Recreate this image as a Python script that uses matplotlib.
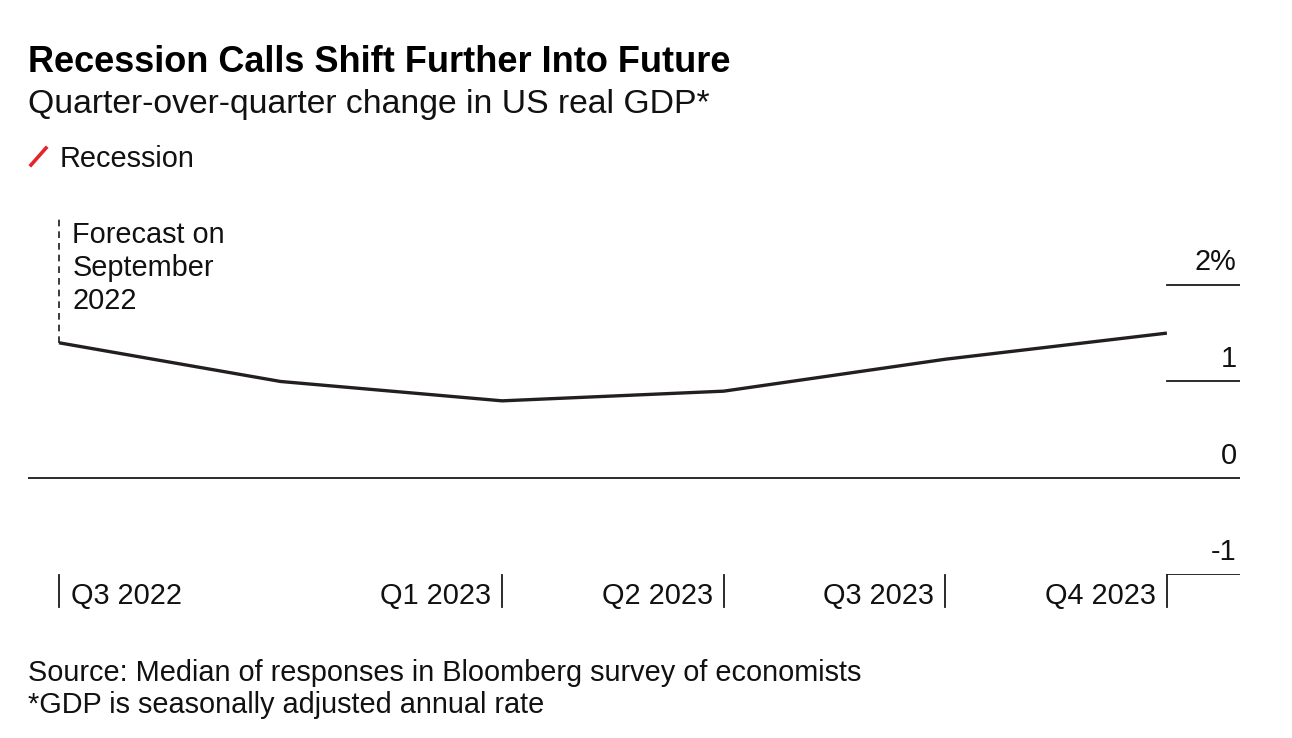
import numpy as np
import matplotlib.pyplot as plt

plt.rcParams['font.family'] = ['Liberation Sans', 'DejaVu Sans']

quarters = ["Q3 2022", "Q4 2022", "Q1 2023", "Q2 2023", "Q3 2023", "Q4 2023"]
gdp = [1.4, 1.0, 0.8, 0.9, 1.23, 1.5]
labeled = ["Q3 2022", "Q1 2023", "Q2 2023", "Q3 2023", "Q4 2023"]
yticks = [-1, 0, 1, 2]
ytick_labels = ["-1", "0", "1", "2%"]

x = np.arange(len(quarters))
last = x[-1]
fs = 20.8

fig = plt.figure(figsize=(12.92, 7.38), dpi=100)
ax = fig.add_axes([28 / 1292, 1 - 575 / 738, 1212 / 1292, (575 - 217) / 738])
ax.set_xlim(-0.14, last + 0.33)
ax.set_ylim(-1, 2.7)
ax.axis('off')

# main line
ax.plot(x, gdp, color='#231f20', lw=2.4, solid_capstyle='butt', zorder=3)

# zero line full width, other gridlines only in the right margin
ax.axhline(0, color='#1a1a1a', lw=1.3)
for v, lab in zip(yticks, ytick_labels):
    if v != 0:
        ax.plot([last, ax.get_xlim()[1]], [v, v], color='#1a1a1a', lw=1.3)
    ax.text(ax.get_xlim()[1] - 0.015, v + 0.09, lab, ha='right', va='bottom',
            fontsize=fs, color='#111')

# x ticks hanging below the axis
for q in labeled:
    i = quarters.index(q)
    ax.plot([i, i], [-1, -1.33], color='#1a1a1a', lw=1.3, clip_on=False)
    if i == 0:
        ax.text(i + 0.055, -1.22, q, ha='left', va='center', fontsize=fs, color='#111')
    else:
        ax.text(i - 0.05, -1.22, q, ha='right', va='center', fontsize=fs, color='#111')

# forecast marker
ax.plot([0, 0], [gdp[0], 2.7], color='#1a1a1a', lw=1.2, ls=(0, (4, 3)), clip_on=False)
ax.text(0.06, 2.66, "Forecast on\nSeptember\n2022", ha='left', va='top',
        fontsize=fs, color='#111', linespacing=1.22)

# titles and legend
fig.text(28 / 1292, 1 - 63 / 738, "Recession Calls Shift Further Into Future",
         fontsize=26, fontweight='bold', va='center', color='#000')
fig.text(28 / 1292, 1 - 104 / 738, "Quarter-over-quarter change in US real GDP*",
         fontsize=24.3, va='center', color='#111')
fig.lines.append(plt.Line2D([31 / 1292, 46 / 1292], [1 - 165 / 738, 1 - 148 / 738],
                            transform=fig.transFigure, color='#e3252f', lw=2.6))
fig.text(60 / 1292, 1 - 159 / 738, "Recession", fontsize=fs, va='center', color='#111')

fig.text(28 / 1292, 1 - 673 / 738, "Source: Median of responses in Bloomberg survey of economists",
         fontsize=fs, va='center', color='#111')
fig.text(28 / 1292, 1 - 705 / 738, "*GDP is seasonally adjusted annual rate",
         fontsize=fs, va='center', color='#111')

fig.savefig('out.png', dpi=100, facecolor='white')
